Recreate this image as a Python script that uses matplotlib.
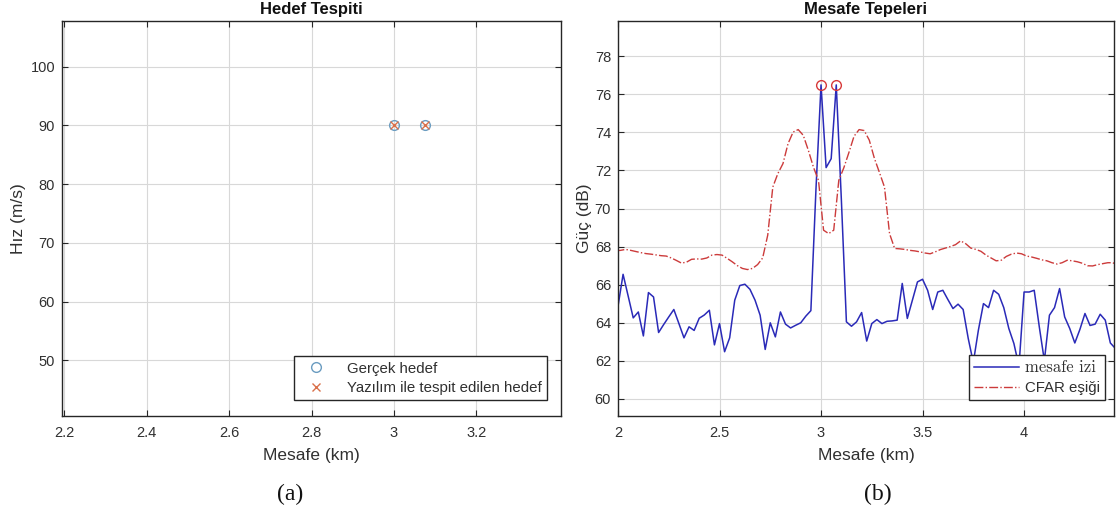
import numpy as np
import matplotlib
matplotlib.use("Agg")
import matplotlib.pyplot as plt

# ---------------- data ----------------
# (a) target detection: true targets and detected targets
true_range_km = [3.0, 3.075]
true_speed = [90, 90]
det_range_km = [3.0, 3.075]
det_speed = [90, 90]

# (b) range profile (dB) sampled every 25 m starting at 2 km
range_start_km = 2.0
range_step_km = 0.025
range_profile_db = [
    64.86, 66.54, 65.40, 64.25, 64.56, 63.30, 65.58, 65.35, 63.48, 63.90,
    64.30, 64.69, 63.95, 63.20, 63.78, 63.59, 64.23, 64.40, 64.65, 62.83,
    63.95, 62.47, 63.20, 65.18, 65.95, 66.02, 65.75, 65.18, 64.39, 62.59,
    63.99, 63.25, 64.56, 63.92, 63.72, 63.86, 63.99, 64.34, 64.63, 71.00,
    76.50, 72.15, 72.62, 76.50, 70.50, 64.04, 63.81, 64.04, 64.53, 63.03,
    63.95, 64.16, 63.95, 64.07, 64.09, 64.13, 66.06, 64.22, 65.18, 66.14,
    66.28, 65.70, 64.69, 65.61, 65.70, 65.21, 64.74, 64.97, 64.69, 63.17,
    61.90, 63.60, 65.00, 64.79, 65.70, 65.49, 64.79, 63.69, 62.90, 61.70,
    65.61, 65.61, 65.70, 63.78, 62.00, 64.39, 64.79, 65.79, 64.30, 63.69,
    62.93, 63.64, 64.48, 63.85, 63.92, 64.44, 64.13, 62.93, 62.64,
]

# CFAR threshold (dB), bins centred half a step from the profile bins
cfar_start_km = 1.9875
cfar_threshold_db = [
    67.78, 67.80, 67.85, 67.80, 67.74, 67.68, 67.63, 67.60, 67.56, 67.52,
    67.50, 67.40, 67.27, 67.13, 67.18, 67.33, 67.35, 67.34, 67.40, 67.55,
    67.58, 67.55, 67.38, 67.20, 67.00, 66.85, 66.79, 66.85, 67.05, 67.40,
    68.60, 71.13, 71.84, 72.36, 73.41, 74.02, 74.15, 73.85, 73.06, 72.18,
    71.48, 68.86, 68.68, 68.86, 71.48, 72.15, 72.95, 73.80, 74.15, 74.10,
    73.60, 72.65, 71.90, 71.13, 68.68, 67.90, 67.88, 67.85, 67.80, 67.77,
    67.72, 67.66, 67.62, 67.72, 67.84, 67.92, 68.00, 68.10, 68.30, 68.15,
    67.92, 67.85, 67.75, 67.55, 67.40, 67.25, 67.28, 67.48, 67.60, 67.66,
    67.62, 67.50, 67.45, 67.38, 67.30, 67.25, 67.15, 67.08, 67.15, 67.28,
    67.25, 67.20, 67.12, 66.99, 66.98, 67.05, 67.10, 67.15, 67.15, 67.00,
]

# detected peaks on the range profile
peak_range_km = [3.0, 3.075]
peak_db = [76.5, 76.5]

range_km = range_start_km + range_step_km * np.arange(len(range_profile_db))
cfar_km = cfar_start_km + range_step_km * np.arange(len(cfar_threshold_db))

# ---------------- styling ----------------
W, H = 1119, 524
SANS = ["Liberation Sans", "DejaVu Sans"]
TXT = "#303030"
plt.rcParams["font.family"] = SANS
plt.rcParams["axes.edgecolor"] = "#262626"

fig = plt.figure(figsize=(W / 100, H / 100), dpi=100)


def px_axes(x0, y0, x1, y1):
    """Axes placed by pixel box (left, top, right, bottom)."""
    return fig.add_axes([x0 / W, 1 - y1 / H, (x1 - x0) / W, (y1 - y0) / H])


def style(ax):
    ax.grid(True, color="#d8d8d8", linewidth=0.8)
    ax.set_axisbelow(True)
    ax.tick_params(direction="in", top=True, right=True, length=4,
                   width=0.8, labelsize=10.5, colors="#262626", labelcolor=TXT,
                   pad=7)
    ax.tick_params(axis="y", pad=5)
    for s in ax.spines.values():
        s.set_linewidth(1.0)


# ---- (a) ----
axa = px_axes(62, 21, 561, 416)
style(axa)
axa.plot(true_range_km, true_speed, linestyle="none", marker="o", ms=7,
         mfc="none", mec="#6a9cc0", mew=1.0, label="Gerçek hedef")
axa.plot(det_range_km, det_speed, linestyle="none", marker="x", ms=6,
         mec="#d9704a", mew=1.0, label="Yazılım ile tespit edilen hedef")
axa.set_xlim(2.195, 3.405)
axa.set_ylim(40.5, 107.8)
axa.set_xticks([2.2, 2.4, 2.6, 2.8, 3.0, 3.2])
axa.set_xticklabels(["2.2", "2.4", "2.6", "2.8", "3", "3.2"])
axa.set_yticks([50, 60, 70, 80, 90, 100])
axa.set_xlabel("Mesafe (km)", fontsize=12.5, color=TXT, labelpad=6)
axa.set_ylabel("Hız (m/s)", fontsize=12.5, color=TXT, labelpad=3)
axa.set_title("Hedef Tespiti", fontsize=12, fontweight="bold", color="#111111", pad=5)
lega = axa.legend(loc="lower right", bbox_to_anchor=(547 / W, 1 - 400 / H),
                  bbox_transform=fig.transFigure, borderaxespad=0,
                  fancybox=False, framealpha=1, edgecolor="#262626",
                  fontsize=10.8, handlelength=2.2, handletextpad=1.0,
                  labelspacing=0.35, borderpad=0.35)
lega.get_frame().set_linewidth(1.0)
for t in lega.get_texts():
    t.set_color(TXT)

# ---- (b) ----
axb = px_axes(618, 21, 1114, 416)
style(axb)
axb.plot(range_km, range_profile_db, color="#2a2ab8", linewidth=1.1,
         label="mesafe izi")
axb.plot(cfar_km, cfar_threshold_db, color="#cc3b3b", linewidth=1.0,
         linestyle="-.", label="CFAR eşiği")
axb.plot(peak_range_km, peak_db, linestyle="none", marker="o", ms=7,
         mfc="none", mec="#d83a3a", mew=1.0)
axb.set_xlim(2.0, 4.443)
axb.set_ylim(59.09, 79.86)
axb.set_xticks([2, 2.5, 3, 3.5, 4])
axb.set_xticklabels(["2", "2.5", "3", "3.5", "4"])
axb.set_yticks(np.arange(60, 79, 2))
axb.set_xlabel("Mesafe (km)", fontsize=12.5, color=TXT, labelpad=6)
axb.set_ylabel("Güç (dB)", fontsize=12.5, color=TXT, labelpad=2)
axb.set_title("Mesafe Tepeleri", fontsize=12, fontweight="bold", color="#111111", pad=5)
legb = axb.legend(loc="lower right", bbox_to_anchor=(1105 / W, 1 - 400 / H),
                  bbox_transform=fig.transFigure, borderaxespad=0,
                  fancybox=False, framealpha=1, edgecolor="#262626",
                  fontsize=10.8, handlelength=3.0, handletextpad=0.4,
                  labelspacing=0.35, borderpad=0.35)
legb.get_frame().set_linewidth(1.0)
texts = legb.get_texts()
texts[0].set_fontfamily(["cmr10", "DejaVu Serif"])
texts[0].set_fontsize(12)
for t in texts:
    t.set_color(TXT)

# sub-figure captions
fig.text(290 / W, 1 - 494 / H, "(a)", ha="center", va="center",
         fontsize=17, family=["Liberation Serif", "DejaVu Serif"], color="#111111")
fig.text(878 / W, 1 - 494 / H, "(b)", ha="center", va="center",
         fontsize=17, family=["Liberation Serif", "DejaVu Serif"], color="#111111")

fig.savefig("out.png", dpi=100)
